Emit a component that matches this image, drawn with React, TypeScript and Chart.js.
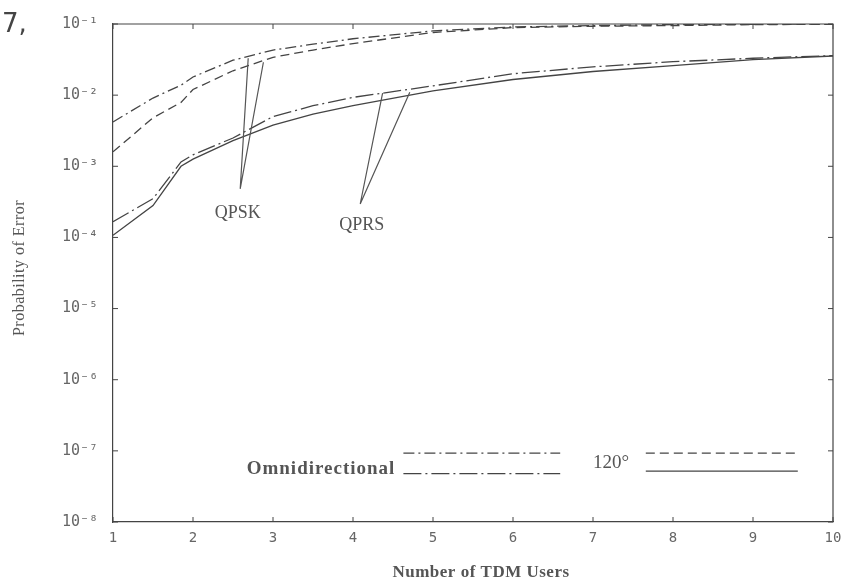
import React, { useEffect, useRef } from "react";
import { Chart, registerables } from "chart.js";

Chart.register(...registerables);

// ---- data ----
const users = [1, 1.5, 1.85, 2, 2.5, 3, 3.5, 4, 5, 6, 7, 8, 9, 10];
const qpskOmni = [4.2e-3, 9.1e-3, 1.38e-2, 1.8e-2, 3.1e-2, 4.3e-2, 5.2e-2, 6.2e-2, 8.0e-2, 9.1e-2, 9.5e-2, 9.8e-2, 0.099, 0.1];
const qpsk120 = [1.6e-3, 4.8e-3, 7.9e-3, 1.2e-2, 2.2e-2, 3.4e-2, 4.3e-2, 5.3e-2, 7.6e-2, 8.9e-2, 9.3e-2, 9.5e-2, 9.8e-2, 0.099];
const qprsOmni = [1.66e-4, 3.5e-4, 1.15e-3, 1.45e-3, 2.5e-3, 5.0e-3, 7.1e-3, 9.3e-3, 1.35e-2, 2.0e-2, 2.5e-2, 2.95e-2, 3.3e-2, 3.6e-2];
const qprs120 = [1.07e-4, 2.8e-4, 1.0e-3, 1.26e-3, 2.3e-3, 3.8e-3, 5.4e-3, 7.1e-3, 1.15e-2, 1.66e-2, 2.15e-2, 2.6e-2, 3.15e-2, 3.55e-2];

const yTickValues = [1e-8, 1e-7, 1e-6, 1e-5, 1e-4, 1e-3, 1e-2, 1e-1];
const yTickLabels = ["10⁻⁸", "10⁻⁷", "10⁻⁶", "10⁻⁵", "10⁻⁴", "10⁻³", "10⁻²", "10⁻¹"];
const xTickValues = [1, 2, 3, 4, 5, 6, 7, 8, 9, 10];
const xTickLabels = ["1", "2", "3", "4", "5", "6", "7", "8", "9", "10"];

const xTitle = "Number of TDM Users";
const yTitle = "Probability of Error";

// annotation anchors in data coordinates
const qpskLabel = { text: "QPSK", x: 2.56, y: 2.2e-4 };
const qpskLeaderStart = { x: 2.59, y: 4.8e-4 };
const qpskTargets = [{ x: 2.69, y: 3.3e-2 }, { x: 2.88, y: 2.9e-2 }];
const qprsLabel = { text: "QPRS", x: 4.11, y: 1.5e-4 };
const qprsLeaderStart = { x: 4.09, y: 2.95e-4 };
const qprsTargets = [{ x: 4.37, y: 1.07e-2 }, { x: 4.71, y: 1.1e-2 }];

const legendOmni = { text: "Omnidirectional", x: 4.53, y: 5.6e-8, x0: 4.63, x1: 6.59, yTop: 9.3e-8, yBot: 4.8e-8 };
const legend120 = { text: "120°", x: 7.0, y: 6.8e-8, x0: 7.66, x1: 9.56, yTop: 9.3e-8, yBot: 5.2e-8 };

const DASH_QPSK_OMNI = [11, 4, 2, 4];
const DASH_QPSK_120 = [9, 5];
const DASH_QPRS_OMNI = [18, 4, 2, 4];
const DASH_QPRS_120: number[] = [];

const LINE = "#444";
const TEXT = "#555";
const TICK_TEXT = "#666";

function pts(ys: number[]) {
  return users.map((x, i) => ({ x, y: ys[i] }));
}

const overlay = {
  id: "overlay",
  afterDraw(chart: any) {
    const { ctx, chartArea: a, scales } = chart;
    const xs = scales.x;
    const ys = scales.y;
    const px = (v: number) => xs.getPixelForValue(v);
    const py = (v: number) => ys.getPixelForValue(v);
    ctx.save();
    // frame top/right
    ctx.strokeStyle = LINE;
    ctx.lineWidth = 1.2;
    ctx.beginPath();
    ctx.moveTo(a.left, a.top);
    ctx.lineTo(a.right, a.top);
    ctx.lineTo(a.right, a.bottom);
    ctx.stroke();
    // inner ticks
    ctx.lineWidth = 1;
    ctx.beginPath();
    yTickValues.forEach((v) => {
      const y = py(v);
      ctx.moveTo(a.left, y); ctx.lineTo(a.left + 5, y);
      ctx.moveTo(a.right, y); ctx.lineTo(a.right - 5, y);
    });
    xTickValues.forEach((v) => {
      const x = px(v);
      ctx.moveTo(x, a.bottom); ctx.lineTo(x, a.bottom - 5);
      ctx.moveTo(x, a.top); ctx.lineTo(x, a.top + 5);
    });
    ctx.stroke();

    // leaders
    ctx.strokeStyle = "#555";
    ctx.lineWidth = 1.2;
    ctx.beginPath();
    qpskTargets.forEach((t) => {
      ctx.moveTo(px(qpskLeaderStart.x), py(qpskLeaderStart.y));
      ctx.lineTo(px(t.x), py(t.y));
    });
    qprsTargets.forEach((t) => {
      ctx.moveTo(px(qprsLeaderStart.x), py(qprsLeaderStart.y));
      ctx.lineTo(px(t.x), py(t.y));
    });
    ctx.stroke();

    // labels
    ctx.fillStyle = TEXT;
    ctx.font = "18px 'Liberation Serif'";
    ctx.textAlign = "center";
    ctx.textBaseline = "middle";
    ctx.fillText(qpskLabel.text, px(qpskLabel.x), py(qpskLabel.y));
    ctx.fillText(qprsLabel.text, px(qprsLabel.x), py(qprsLabel.y));

    // legend
    ctx.font = "bold 19px 'Liberation Serif'";
    (ctx as any).letterSpacing = "1px";
    ctx.textAlign = "right";
    ctx.fillText(legendOmni.text, px(legendOmni.x), py(legendOmni.y));
    ctx.font = "19px 'Liberation Serif'";
    (ctx as any).letterSpacing = "0px";
    ctx.textAlign = "left";
    ctx.fillText(legend120.text, px(legend120.x), py(legend120.y));

    const seg = (x0: number, x1: number, y: number, dash: number[]) => {
      ctx.setLineDash(dash);
      ctx.beginPath();
      ctx.moveTo(px(x0), py(y));
      ctx.lineTo(px(x1), py(y));
      ctx.stroke();
    };
    ctx.strokeStyle = LINE;
    ctx.lineWidth = 1.3;
    seg(legendOmni.x0, legendOmni.x1, legendOmni.yTop, DASH_QPSK_OMNI);
    seg(legendOmni.x0, legendOmni.x1, legendOmni.yBot, DASH_QPRS_OMNI);
    seg(legend120.x0, legend120.x1, legend120.yTop, DASH_QPSK_120);
    seg(legend120.x0, legend120.x1, legend120.yBot, DASH_QPRS_120);
    ctx.setLineDash([]);

    // axis titles
    ctx.fillStyle = TEXT;
    ctx.font = "bold 17px 'Liberation Serif'";
    (ctx as any).letterSpacing = "0.5px";
    ctx.textAlign = "center";
    ctx.textBaseline = "middle";
    ctx.fillText(xTitle, (a.left + a.right) / 2 + 8, 573);
    (ctx as any).letterSpacing = "0.5px";
    ctx.font = "16px 'Liberation Serif'";
    ctx.translate(20, 268);
    ctx.rotate(-Math.PI / 2);
    ctx.fillText(yTitle, 0, 0);
    ctx.restore();

    // figure fragment
    ctx.save();
    ctx.fillStyle = "#444";
    ctx.font = "26px 'DejaVu Sans'";
    ctx.textAlign = "left";
    ctx.textBaseline = "alphabetic";
    ctx.fillText("7,", 2, 32);
    ctx.restore();
  },
};

export default function App() {
  const ref = useRef<HTMLCanvasElement | null>(null);
  useEffect(() => {
    if (!ref.current) return;
    const common = { pointRadius: 0, borderWidth: 1.3, borderColor: LINE, tension: 0, fill: false };
    const chart = new Chart(ref.current, {
      type: "line",
      data: {
        datasets: [
          { label: "QPSK Omnidirectional", data: pts(qpskOmni), borderDash: DASH_QPSK_OMNI, ...common },
          { label: "QPSK 120°", data: pts(qpsk120), borderDash: DASH_QPSK_120, ...common },
          { label: "QPRS Omnidirectional", data: pts(qprsOmni), borderDash: DASH_QPRS_OMNI, ...common },
          { label: "QPRS 120°", data: pts(qprs120), borderDash: DASH_QPRS_120, ...common },
        ],
      },
      options: {
        animation: false,
        responsive: false,
        layout: { padding: { left: 0, right: 28, top: 18, bottom: 0 } },
        plugins: { legend: { display: false }, tooltip: { enabled: false } },
        scales: {
          x: {
            type: "linear",
            min: 1,
            max: 10,
            grid: { display: false, drawTicks: false },
            border: { display: true, color: LINE, width: 1.2 },
            afterBuildTicks: (s: any) => { s.ticks = xTickValues.map((v) => ({ value: v })); },
            afterFit: (s: any) => { s.height = 61; },
            ticks: {
              padding: 8,
              color: TICK_TEXT,
              font: { family: "'DejaVu Sans Mono'", size: 14 },
              callback: (v: any) => xTickLabels[xTickValues.indexOf(Number(v))] ?? "",
              maxRotation: 0,
              autoSkip: false,
            },
          },
          y: {
            type: "logarithmic",
            min: 1e-8,
            max: 1e-1,
            grid: { display: false, drawTicks: false },
            border: { display: true, color: LINE, width: 1.2 },
            afterBuildTicks: (s: any) => { s.ticks = yTickValues.map((v) => ({ value: v })); },
            afterFit: (s: any) => { s.width = 113; },
            ticks: {
              padding: 15,
              color: TICK_TEXT,
              font: { family: "'DejaVu Sans Mono'", size: 15 },
              callback: (v: any) => {
                const i = yTickValues.findIndex((t) => Math.abs(Math.log10(t) - Math.log10(Number(v))) < 1e-6);
                return i >= 0 ? yTickLabels[i] : "";
              },
              autoSkip: false,
            },
          },
        },
      },
      plugins: [overlay],
    } as any);
    return () => chart.destroy();
  }, []);
  return (
    <div style={{ position: "absolute", left: 0, top: 0, width: 861, height: 583, background: "#fff" }}>
      <canvas ref={ref} width={861} height={583} style={{ display: "block" }} />
    </div>
  );
}
